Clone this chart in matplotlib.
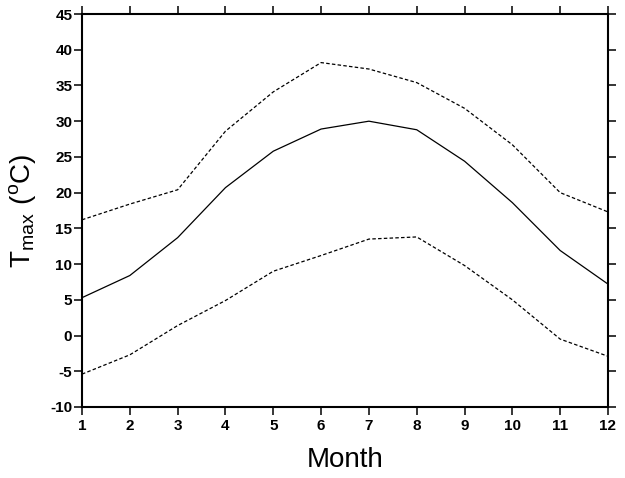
import matplotlib
matplotlib.use("Agg")
import matplotlib.pyplot as plt

months = [1, 2, 3, 4, 5, 6, 7, 8, 9, 10, 11, 12]
tmax_mean = [5.3, 8.4, 13.7, 20.7, 25.8, 28.9, 30.0, 28.8, 24.4, 18.6, 11.9, 7.2]
tmax_upper = [16.2, 18.4, 20.4, 28.6, 34.1, 38.2, 37.3, 35.4, 31.8, 26.7, 20.0, 17.3]
tmax_lower = [-5.4, -2.7, 1.4, 4.9, 9.0, 11.2, 13.5, 13.8, 9.8, 5.0, -0.5, -2.9]
yticks = [-10, -5, 0, 5, 10, 15, 20, 25, 30, 35, 40, 45]

plt.rcParams['font.family'] = ['Liberation Sans', 'DejaVu Sans']
plt.rcParams['mathtext.fontset'] = 'custom'
plt.rcParams['mathtext.rm'] = 'Liberation Sans'
plt.rcParams['axes.unicode_minus'] = False

fig = plt.figure(figsize=(6.25, 4.78), dpi=100)
ax = fig.add_axes([82/625, 1-407/478, (608-82)/625, (407-14)/478])

ax.plot(months, tmax_mean, color='black', lw=0.9)
ax.plot(months, tmax_upper, color='black', lw=0.9, dashes=(2.8, 1.8))
ax.plot(months, tmax_lower, color='black', lw=0.9, dashes=(2.8, 1.8))

ax.set_xlim(1, 12)
ax.set_ylim(-10, 45)
ax.set_xticks(months)
ax.set_yticks(yticks)
ax.tick_params(direction='out', length=5.5, width=1.1, labelsize=11,
               top=True, right=True, labeltop=False, labelright=False)
ax.tick_params(axis='y', pad=1.5)
ax.tick_params(axis='x', pad=3)
for lab in ax.get_xticklabels() + ax.get_yticklabels():
    lab.set_fontweight('bold')
for s in ax.spines.values():
    s.set_linewidth(1.5)

ax.set_xlabel('Month', fontsize=20, labelpad=10)
ax.set_ylabel(r'$\mathregular{T_{max}\ (^{o}C)}$', fontsize=20, labelpad=9)

fig.savefig('out.png', dpi=100)
